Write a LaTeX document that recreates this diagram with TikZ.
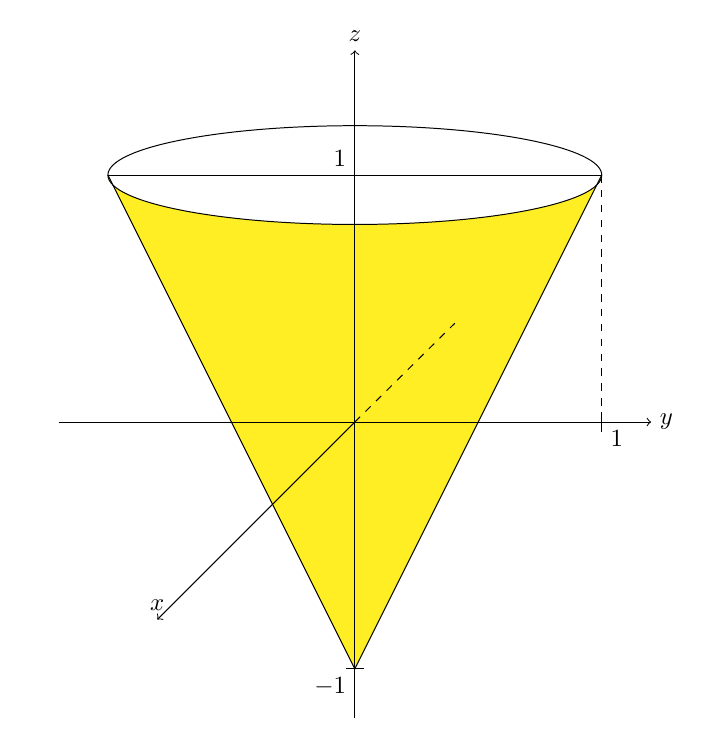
\documentclass[tikz,border=0pt]{standalone}
\usepackage{xcolor}
\usepackage{tikz}
\definecolor{coneyellow}{RGB}{255,238,36}

\begin{document}
\begin{tikzpicture}[x=3.5cm,y=3.5cm,>=to]
\useasboundingbox (-1.437,-1.304) rectangle (1.437,1.709);
\coordinate (O) at (0,0);
\coordinate (L) at (-1,1);
\coordinate (R) at (1,1);
\coordinate (V) at (0,-1);
% cone surface
\fill[coneyellow] (L) -- (V) -- (R) arc[start angle=0,end angle=-180,x radius=1,y radius=0.2] -- cycle;
% axes
\draw[->] (-1.2,0) -- (1.2,0) node[right] (ylab) {$y$};
\draw[->] (0,-1.2) -- (0,1.505) node[above] (zlab) {$z$};
\draw[->] (O) -- (-0.8,-0.8) node[above] (xlab) {$x$};
\draw[dashed] (O) -- (0.405,0.4);
% cone outline
\draw (L) -- (V) -- (R);
\draw (0,1) ellipse[x radius=1,y radius=0.2];
\draw (L) -- (R);
\draw[dashed] (R) -- (1,0);
% ticks
\draw (1,0.04) -- (1,-0.04);
\draw (-0.036,-1) -- (0.036,-1);
\node[below right] (yone) at (1,0) {$1$};
\node[above left] (zone) at (0,1) {$1$};
\node[below left] (zmone) at (V) {$-1$};
\end{tikzpicture}
\end{document}
